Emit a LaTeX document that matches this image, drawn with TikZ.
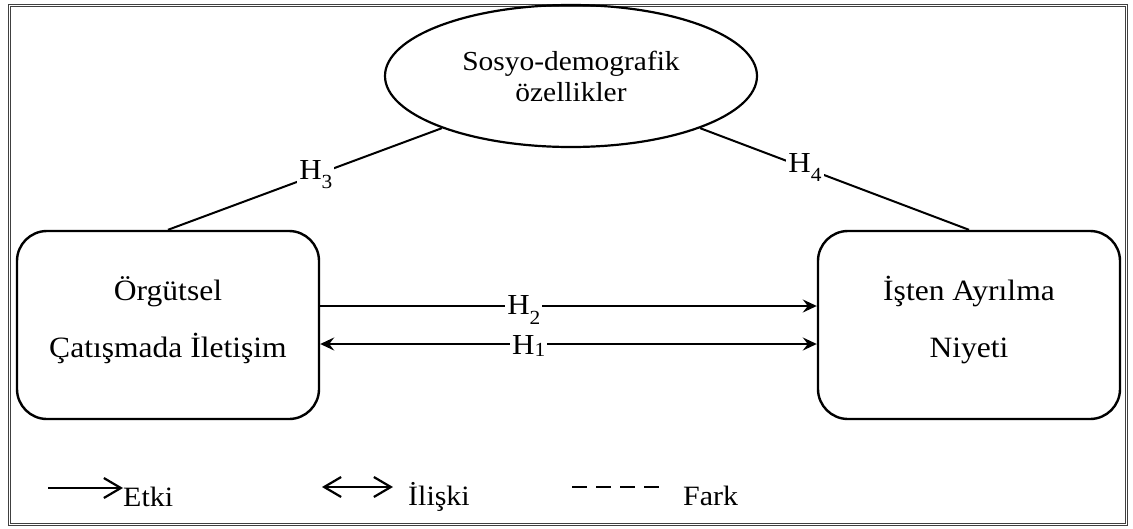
\documentclass[tikz,border=0pt]{standalone}
\usepackage{fontspec}
\setmainfont{Liberation Serif}[FakeStretch=1.07]
\usetikzlibrary{shapes.geometric,arrows.meta}
\begin{document}
\begin{tikzpicture}[x=1pt,y=-1pt,
  boxtext/.style={font=\fontsize{29.5}{57}\selectfont, align=center},
  varbox/.style={draw, line width=2.4pt, rounded corners=30pt, minimum width=302pt, minimum height=188pt, inner sep=0pt, text depth=16pt, boxtext},
  groupell/.style={draw, ellipse, line width=2.2pt, minimum width=372pt, minimum height=142pt, inner sep=0pt, font=\fontsize{27.5}{31}\selectfont, align=center},
  link/.style={line width=2pt},
  hyp/.style={fill=white, inner sep=2pt, font=\fontsize{29}{29}\selectfont},
  tip/.style={-{Stealth[length=14pt,width=13pt,inset=5pt]}},
  tips/.style={{Stealth[length=14pt,width=13pt,inset=5pt]}-{Stealth[length=14pt,width=13pt,inset=5pt]}},
  legtext/.style={anchor=base west, inner sep=0pt, font=\fontsize{28}{28}\selectfont},
  legline/.style={line width=2.2pt},
  barb/.tip={Straight Barb[length=17pt,width=20pt,line width=2.2pt]}
]
\useasboundingbox (0,0) rectangle (1133,528);

% double frame
\draw[line width=0.9pt, black!75] (8,4) rectangle (1127,525);
\draw[line width=0.9pt, black!75] (10,6) rectangle (1125,523);

% main nodes
\node[groupell] (ell) at (571,76) {Sosyo-demografik\\özellikler};
\node[varbox] (lbox) at (168,325) {Örgütsel\\Çatışmada İletişim};
\node[varbox] (rbox) at (969,325) {İşten Ayrılma\\Niyeti};

% moderating links
\draw[link] (lbox.north) -- node[hyp, pos=0.54] {H\raisebox{-0.3em}{\fontsize{20}{20}\selectfont 3}} (ell.202);
\draw[link] (ell.338) -- node[hyp, pos=0.39] {H\raisebox{-0.3em}{\fontsize{20}{20}\selectfont 4}} (rbox.north);

% effect and relation
\draw[link, tip] ([yshift=19pt]lbox.east) -- node[hyp, pos=0.41, inner ysep=0pt, yshift=-4pt] {H\raisebox{-0.35em}{\fontsize{20}{20}\selectfont 2}} ([yshift=19pt]rbox.west);
\draw[link, tips] ([yshift=-19pt]lbox.east) -- node[hyp, pos=0.42, inner ysep=0pt, yshift=-2pt] {H\raisebox{-0.1em}{\fontsize{20}{20}\selectfont 1}} ([yshift=-19pt]rbox.west);

% legend
\coordinate (eS) at (48,488);
\node[legtext] (etki) at (123,506) {Etki};
\draw[legline, -barb] (eS) -- (etki.west |- eS);

\coordinate (iS) at (322,487);
\coordinate (iE) at (393,487);
\draw[legline, barb-barb] (iS) -- (iE);
\node[legtext] (iliski) at (408,505) {İlişki};

\coordinate (fS) at (572,487);
\coordinate (fE) at (661,487);
\draw[legline, dash pattern=on 15pt off 9pt] (fS) -- (fE);
\node[legtext] (fark) at (683,505) {Fark};
\end{tikzpicture}
\end{document}
